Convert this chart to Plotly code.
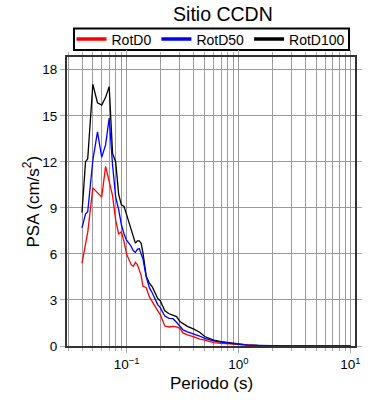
import plotly.graph_objects as go

periods = [0.04, 0.043, 0.045, 0.05, 0.055, 0.06, 0.065, 0.07, 0.075, 0.08, 0.085, 0.09, 0.095,
           0.10, 0.105, 0.11, 0.115, 0.12, 0.125, 0.13, 0.135, 0.14, 0.15, 0.16, 0.17, 0.18, 0.19,
           0.20, 0.22, 0.24, 0.26, 0.28, 0.30, 0.32, 0.35, 0.40, 0.45, 0.50, 0.55, 0.60, 0.70,
           0.80, 0.90, 1.0, 1.2, 1.5, 2.0, 3.0, 4.0, 5.0, 7.5, 10.0]

rotd100 = [8.7, 12.0, 12.2, 17.05, 15.85, 15.7, 16.2, 16.9, 12.55, 12.0, 9.9, 9.2, 9.1,
           8.6, 8.1, 7.6, 7.1, 6.7, 6.85, 6.85, 6.7, 6.1, 4.55, 4.1, 3.85, 3.5, 3.1,
           2.95, 2.3, 2.1, 1.98, 1.92, 1.6, 1.45, 1.28, 1.1, 0.9, 0.62, 0.48, 0.38, 0.28,
           0.22, 0.16, 0.12, 0.07, 0.04, 0.02, 0.01, 0.006, 0.004, 0.002, 0.001]

rotd50 = [7.7, 8.6, 8.75, 12.1, 13.95, 12.3, 13.1, 14.85, 11.8, 9.7, 8.9, 7.9, 7.3,
          6.9, 6.7, 6.5, 6.2, 6.1, 6.3, 6.35, 6.0, 5.7, 4.5, 3.8, 3.45, 3.05, 2.7,
          2.5, 1.95, 1.8, 1.78, 1.55, 1.3, 1.05, 0.92, 0.8, 0.65, 0.5, 0.4, 0.33, 0.25,
          0.18, 0.13, 0.1, 0.06, 0.035, 0.018, 0.009, 0.005, 0.003, 0.002, 0.001]

rotd0 = [5.4, 6.8, 7.4, 10.3, 10.0, 9.7, 11.7, 10.8, 9.8, 8.2, 7.3, 7.44, 6.8,
         6.0, 5.6, 5.3, 5.2, 5.45, 5.3, 4.9, 4.6, 3.9, 3.8, 3.2, 2.85, 2.55, 2.3,
         2.05, 1.3, 1.24, 1.28, 1.24, 1.15, 0.85, 0.72, 0.6, 0.45, 0.38, 0.3, 0.22, 0.18,
         0.15, 0.12, 0.1, 0.07, 0.03, 0.015, 0.008, 0.005, 0.003, 0.002, 0.001]

series_names = ["RotD0", "RotD50", "RotD100"]
series_colors = {"RotD0": "#ff0000", "RotD50": "#0000ff", "RotD100": "#000000"}
series_values = {"RotD0": rotd0, "RotD50": rotd50, "RotD100": rotd100}

x_tickvals = [0.1, 1, 10]
x_ticktext = ["10<sup>\u22121</sup>", "10<sup>0</sup>", "10<sup>1</sup>"]
x_minor = [m * 10 ** e for e in (-2, -1, 0, 1) for m in range(2, 10)]
y_tickvals = [0, 3, 6, 9, 12, 15, 18]

x_title = "Periodo (s)"
y_title = "PSA (cm/s<sup>2</sup>)"
chart_title = "Sitio CCDN"

fig = go.Figure()

# data lines (black below, then red, blue on top)
for name in ["RotD100", "RotD0", "RotD50"]:
    fig.add_trace(go.Scatter(x=periods, y=series_values[name], mode="lines",
                             line=dict(color=series_colors[name], width=1.3),
                             name=name, showlegend=False))
# legend entries with thick lines
for name in series_names:
    fig.add_trace(go.Scatter(x=[None], y=[None], mode="lines",
                             line=dict(color=series_colors[name], width=3.5),
                             name=name, showlegend=True))

font_family = "Liberation Sans, Arial, sans-serif"
axis_common = dict(
    showline=True, linecolor="#333333", linewidth=2, mirror="ticks",
    ticks="outside", ticklen=5, tickcolor="#aaaaaa", tickwidth=1,
    gridcolor="#9a9a9a", gridwidth=1, zeroline=False, automargin=False,
    tickfont=dict(family=font_family, size=13.5, color="#000000"),
)

L, T_, PLOT_W, PLOT_H = 67, 57, 288, 289
BOTTOM = T_ + PLOT_H


def px_x(p):
    return (p - L) / PLOT_W


def px_y(p):
    return (BOTTOM - p) / PLOT_H


fig.update_layout(
    width=390, height=400,
    margin=dict(l=L, r=390 - L - PLOT_W, t=T_, b=400 - BOTTOM, autoexpand=False),
    paper_bgcolor="white", plot_bgcolor="white",
    font=dict(family=font_family, color="#000000"),
    title=dict(text=chart_title, x=0.5415, xanchor="center", xref="paper",
               y=1 - 14 / 400, yref="container", yanchor="middle",
               font=dict(size=19.5, family=font_family, color="#000000")),
    showlegend=True,
    legend=dict(orientation="h", x=0.5, xanchor="center", y=px_y(39.5), yanchor="middle",
                borderwidth=0, bgcolor="rgba(0,0,0,0)",
                font=dict(size=14, family=font_family, color="#000000"),
                itemwidth=30, tracegroupgap=0),
    shapes=[
        dict(type="rect", xref="paper", yref="paper",
             x0=px_x(74), x1=px_x(349), y0=px_y(50), y1=px_y(28.5),
             line=dict(color="#000000", width=2), fillcolor="white", layer="below"),
    ],
    annotations=[
        dict(text=x_title, xref="paper", yref="paper", x=0.5, y=px_y(383),
             xanchor="center", yanchor="middle", showarrow=False,
             font=dict(size=17, family=font_family, color="#000000")),
        dict(text=y_title, xref="paper", yref="paper", x=px_x(31), y=0.5,
             xanchor="center", yanchor="middle", showarrow=False, textangle=-90,
             font=dict(size=17, family=font_family, color="#000000")),
    ],
)

fig.update_xaxes(type="log", range=[-1.532, 1.042],
                 tickvals=x_tickvals, ticktext=x_ticktext, showgrid=True,
                 minor=dict(tickvals=x_minor, ticks="outside", ticklen=3,
                            tickcolor="#aaaaaa", showgrid=True, gridcolor="#9a9a9a", gridwidth=1),
                 **axis_common)
fig.update_yaxes(range=[0, 18.83], tickvals=y_tickvals, showgrid=True,
                 **axis_common)

fig.write_html("out.html", config={"displayModeBar": False},
               post_script="document.body.style.margin='0';document.body.style.padding='0';")
